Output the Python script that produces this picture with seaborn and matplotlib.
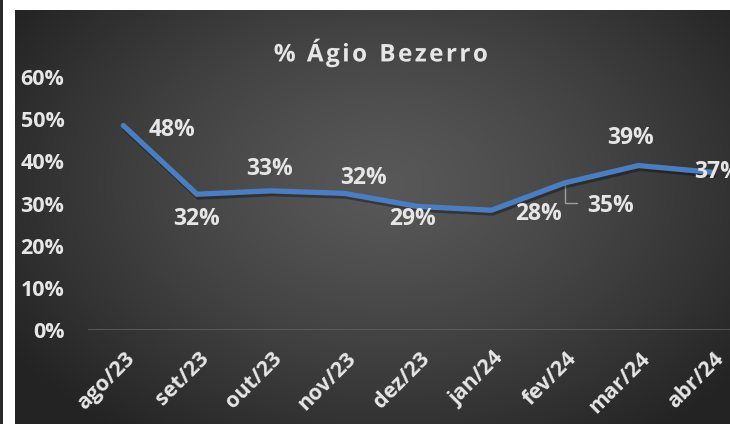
import numpy as np
import pandas as pd
import matplotlib
matplotlib.use("Agg")
import matplotlib.pyplot as plt
import matplotlib.patheffects as pe
from matplotlib.patches import Rectangle
from matplotlib.transforms import ScaledTranslation
import seaborn as sns

# ── Data ──────────────────────────────────────────────────────────────────────
months = ["ago/23", "set/23", "out/23", "nov/23", "dez/23",
          "jan/24", "fev/24", "mar/24", "abr/24"]
agio = [0.485, 0.322, 0.330, 0.324, 0.293, 0.284, 0.349, 0.390, 0.374]
labels = ["48%", "32%", "33%", "32%", "29%", "28%", "35%", "39%", "37%"]
yticks = [0.0, 0.1, 0.2, 0.3, 0.4, 0.5, 0.6]

# label offsets (points) relative to each data point
label_offsets = [(35, -3), (0, -18), (-1, 16), (14, 11), (-4, -9),
                 (34, -3), (33, -17), (-6, 20), (4, 0)]

TXT = "#e6e6e6"
LINE = "#4a7ec4"
FONT = ["Open Sans", "DejaVu Sans"]

sns.set_theme(style="dark")
plt.rcParams["font.family"] = FONT

W, H = 730, 424
fig = plt.figure(figsize=(W / 100, H / 100), dpi=100, facecolor="white")

# ── Background: radial gradient panel ────────────────────────────────────────
bg = fig.add_axes([15 / W, 0, (W - 15) / W, (H - 10) / H])
bg.set_axis_off()
yy, xx = np.mgrid[0:1:300j, 0:1:500j]
r = np.sqrt(((xx - 0.52) / 0.62) ** 2 + ((yy - 0.42) / 0.75) ** 2)
r = np.clip(r, 0, 1)
edge, center = 0.14, 0.345
shade = center - (center - edge) * r ** 1.3
bg.imshow(np.dstack([shade, shade, shade]), aspect="auto", extent=[0, 1, 0, 1])
fig.patches.append(Rectangle((0, 0), 3 / W, 1, transform=fig.transFigure,
                             facecolor="#2b2b2b", edgecolor="none", zorder=5))

# ── Line chart ───────────────────────────────────────────────────────────────
ax = fig.add_axes([88 / W, (H - 330) / H, (W - 88) / W, (330 - 77) / H])
ax.set_facecolor("none")
df = pd.DataFrame({"mes": months, "agio": agio})
x = np.arange(len(months))
sns.lineplot(x=x, y=df["agio"], ax=ax, color=LINE, linewidth=3.8,
             solid_capstyle="round", solid_joinstyle="miter", sort=False,
             path_effects=[pe.SimpleLineShadow(offset=(1, -2), alpha=0.35,
                                               shadow_color="black"),
                           pe.Normal()])

ax.set_xlim(-0.48, (W - 125) / 73.4)
ax.set_ylim(0, 0.6)
ax.set_yticks(yticks)
ax.set_yticklabels([f"{int(round(t * 100))}%" for t in yticks])
ax.set_xticks(x)
ax.set_xticklabels(months, rotation=45, ha="right", rotation_mode="anchor")
ax.tick_params(axis="both", length=0, colors=TXT, labelsize=15.5)
ax.tick_params(axis="y", pad=17)
ax.tick_params(axis="x", pad=13)
for t in ax.get_xticklabels() + ax.get_yticklabels():
    t.set_fontweight("bold")
    t.set_color(TXT)
for t in ax.get_xticklabels():
    t.set_transform(t.get_transform() + ScaledTranslation(1 / 72, 0, fig.dpi_scale_trans))
ax.set_xlabel("")
ax.set_ylabel("")
ax.grid(False)
for s in ax.spines.values():
    s.set_visible(False)
ax.axhline(0, color="#5e5e5e", linewidth=1.2, zorder=1)

for xi, yi, lab, off in zip(x, agio, labels, label_offsets):
    ax.annotate(lab, (xi, yi), xytext=off, textcoords="offset points",
                ha="center", va="center", color=TXT, fontsize=16.5,
                fontweight="bold", annotation_clip=False)

# leader line for fev/24 label
fx, fy = x[6], agio[6]
ax.plot([fx, fx, fx + 0.17], [fy - 0.004, fy - 0.047, fy - 0.047],
        color="#a0a0a0", lw=1, solid_joinstyle="miter", zorder=1)

fig.text(0.521, 0.874, "\u200a".join("% Ágio") + "\u2002" + "\u200a".join("Bezerro"),
         ha="center", va="center", color=TXT, fontsize=17.5, fontweight="bold",
         family=FONT,
         path_effects=[pe.withSimplePatchShadow(offset=(1, -1), alpha=0.4)])

fig.savefig("out.png", dpi=100, facecolor="white")
